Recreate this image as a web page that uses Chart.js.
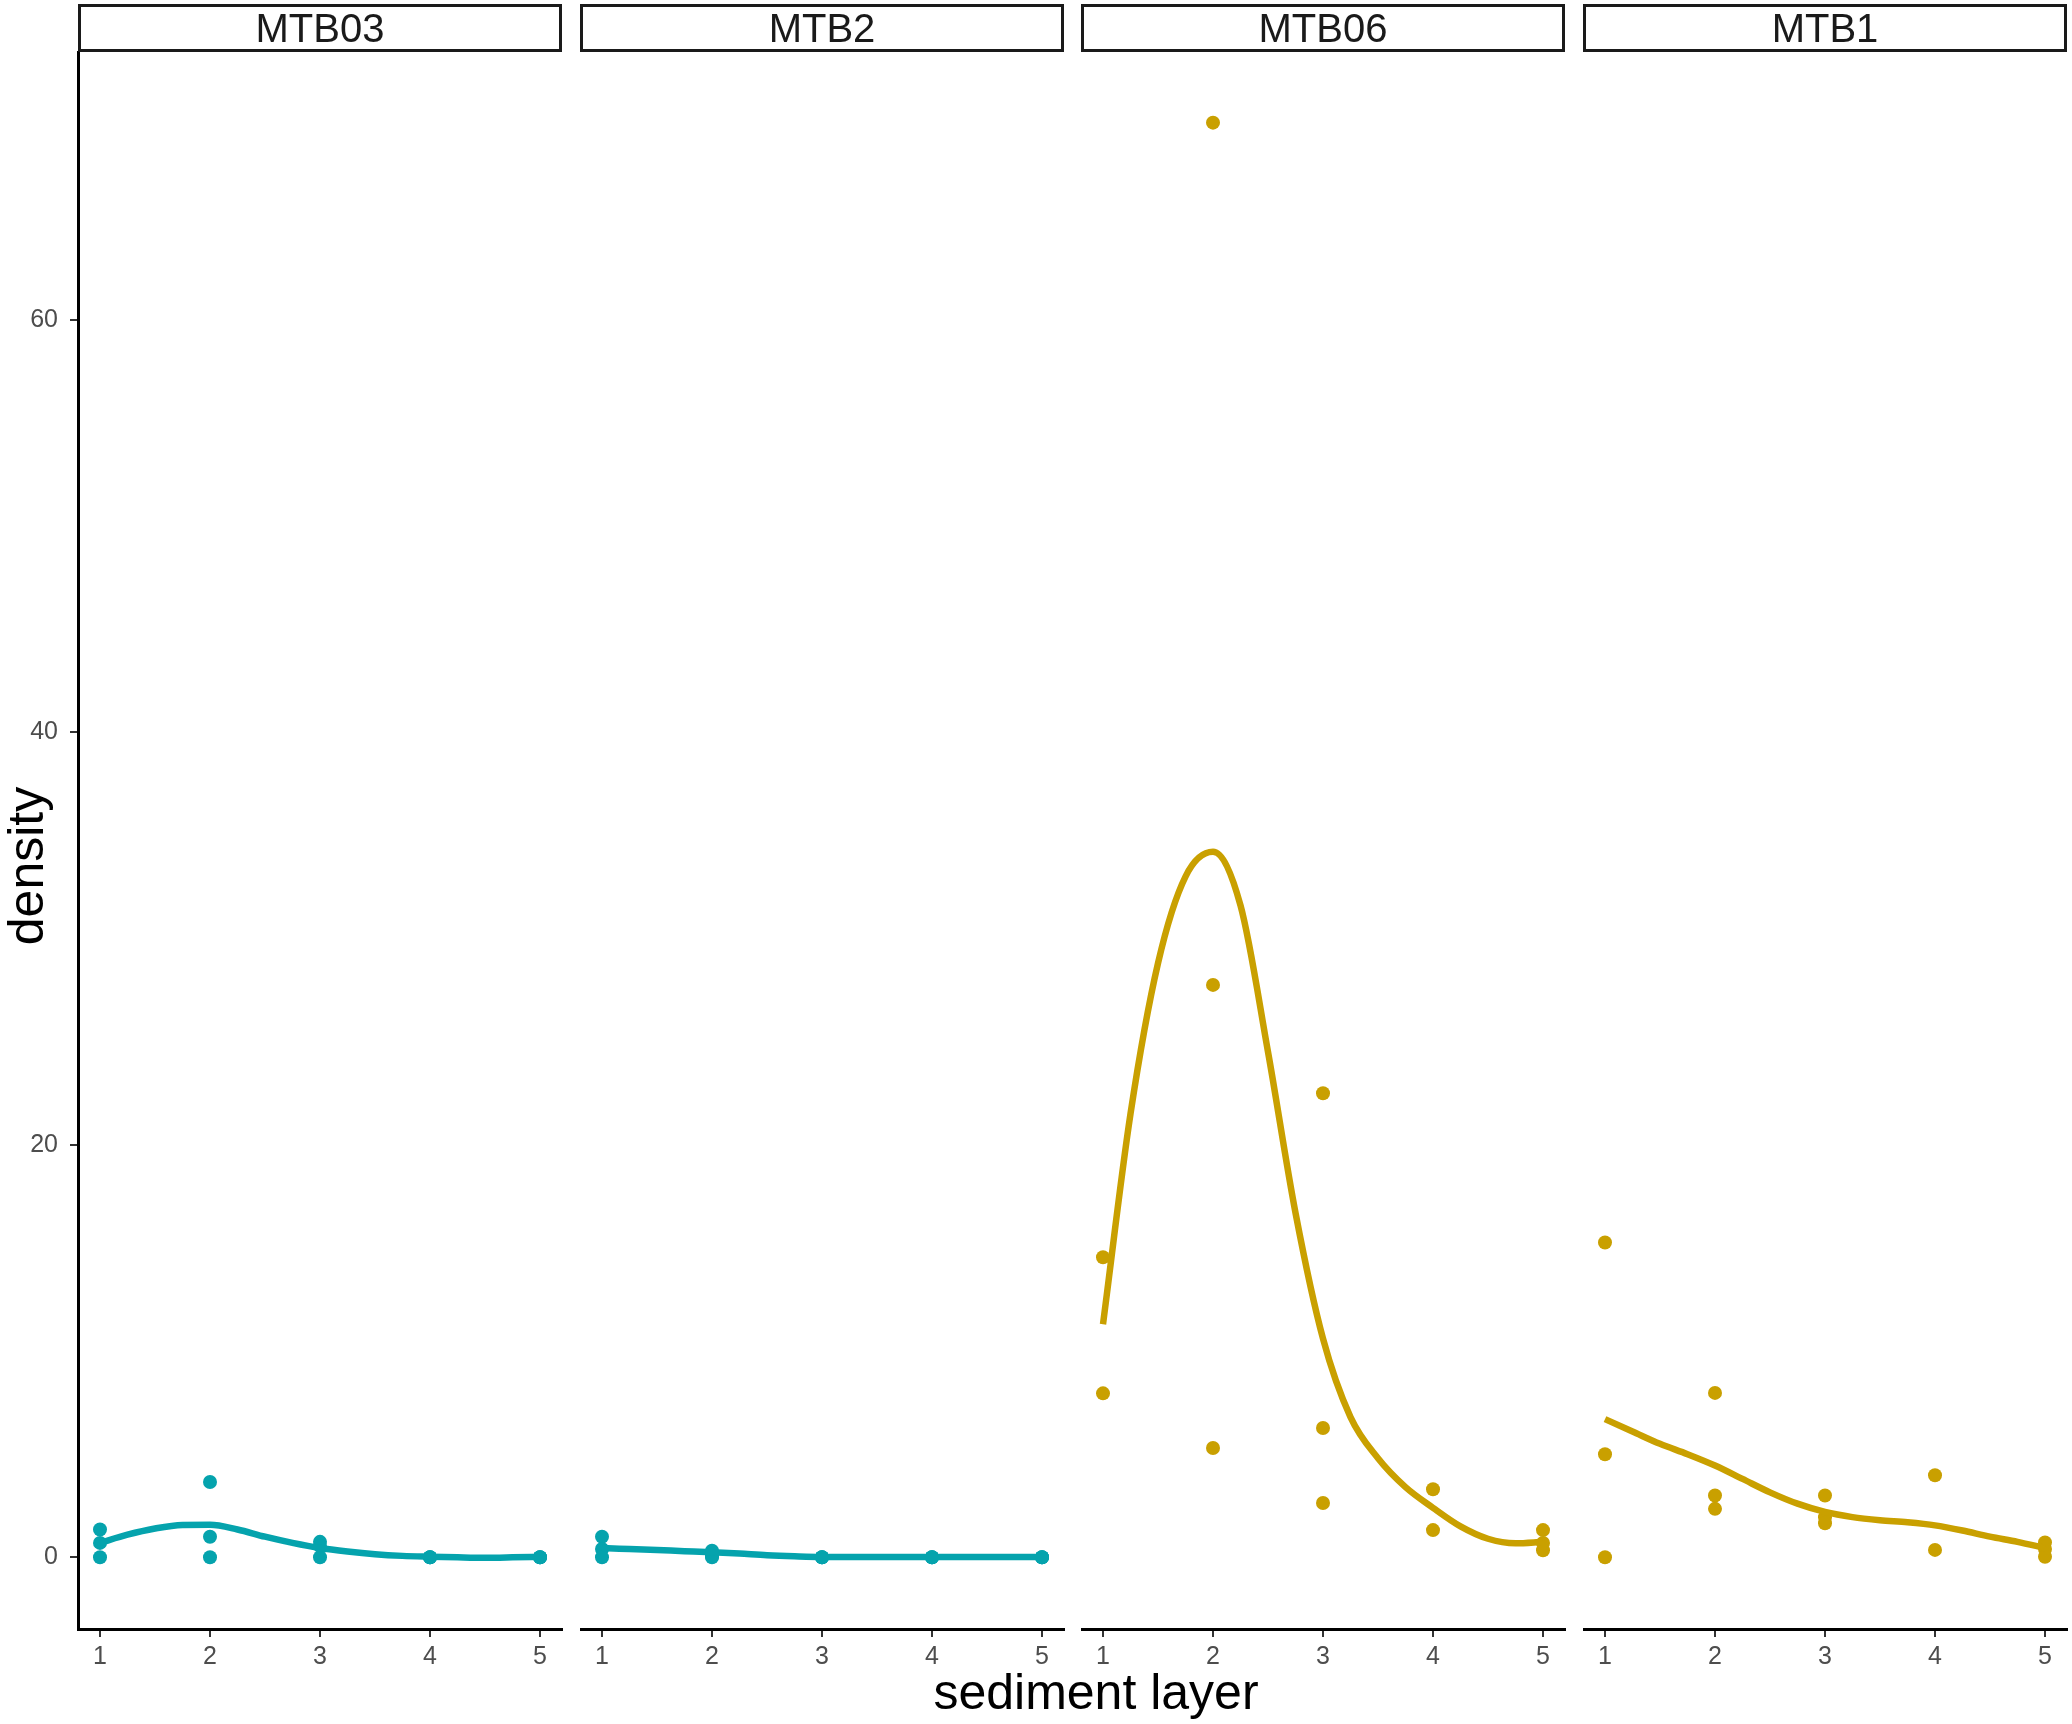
<!DOCTYPE html>
<html>
<head>
<meta charset="utf-8">
<script src="https://cdn.jsdelivr.net/npm/chart.js@4.4.1/dist/chart.umd.min.js"></script>
<style>
  html, body { margin:0; padding:0; background:#fff; }
  body { width:2072px; height:1724px; position:relative; overflow:hidden; font-family:"Liberation Sans", Arial, sans-serif; }
  canvas { position:absolute; }
  .strip { position:absolute; top:4px; height:48px; box-sizing:border-box; border:3px solid #1a1a1a;
           display:flex; align-items:center; justify-content:center; font-size:40px; color:#1a1a1a; }
  .ttl { position:absolute; font-size:50px; line-height:1; color:#000; white-space:nowrap; }
</style>
</head>
<body>
<div class="ttl" id="ylab" style="left:26px; top:866px; transform:translate(-50%,-50%) rotate(-90deg);">density</div>
<div class="ttl" id="xlab" style="left:1096px; top:1667px; transform:translateX(-50%);">sediment layer</div>

<script>
// ---- datos ----
const panelNames = ['MTB03', 'MTB2', 'MTB06', 'MTB1'];
const layers = [1, 2, 3, 4, 5];
const yTicks = [0, 20, 40, 60];

// puntos por capa (un array por capa)
const densityMTB03 = [[1.35, 0.7, 0], [3.65, 1.0, 0], [0.75, 0.55, 0], [0, 0, 0], [0, 0, 0]];
const densityMTB2  = [[1.0, 0.4, 0], [0.32, 0.05, 0], [0, 0, 0], [0, 0, 0], [0, 0, 0]];
const densityMTB06 = [[14.55, 7.95], [69.55, 27.75, 5.3], [22.5, 6.27, 2.63], [3.3, 1.32], [1.32, 0.7, 0.34]];
const densityMTB1  = [[15.26, 5.0, 0], [7.97, 3.0, 2.35], [3.0, 1.94, 1.65], [3.98, 0.36], [0.72, 0.4, 0.03]];

// curva suavizada (loess) leída cada 0.25
const smoothX      = [1, 1.25, 1.5, 1.75, 2, 2.25, 2.5, 2.75, 3, 3.25, 3.5, 3.75, 4, 4.25, 4.5, 4.75, 5];
const smoothMTB03  = [0.7, 1.1, 1.4, 1.57, 1.58, 1.35, 1.0, 0.7, 0.45, 0.28, 0.15, 0.07, 0.03, 0.0, -0.02, 0.0, 0.03];
const smoothMTB2   = [0.45, 0.4, 0.35, 0.3, 0.25, 0.18, 0.1, 0.05, 0.02, 0.02, 0.02, 0.02, 0.02, 0.02, 0.02, 0.02, 0.02];
const smoothMTB06  = [11.3, 21.5, 28.8, 33.0, 34.2, 31.6, 24.5, 16.7, 10.6, 6.8, 4.8, 3.4, 2.4, 1.5, 0.9, 0.68, 0.75];
const smoothMTB1   = [6.7, 6.1, 5.5, 5.0, 4.45, 3.8, 3.15, 2.6, 2.2, 1.95, 1.8, 1.7, 1.55, 1.3, 1.0, 0.75, 0.45];

const TEAL = '#05A3AD', GOLD = '#C9A000';
const panelPoints = [densityMTB03, densityMTB2, densityMTB06, densityMTB1];
const panelSmooth = [smoothMTB03, smoothMTB2, smoothMTB06, smoothMTB1];
const panelColor  = [TEAL, TEAL, GOLD, GOLD];

// --- geometría de paneles (px) ---
const PANEL_LEFT = [78, 580, 1081, 1583];
const PANEL_W = 484, AREA_TOP = 52, AREA_BOTTOM = 1629, PAD_TOP = 30, Y_AXIS_W = 78;
const FONT = '"Liberation Sans", Arial, sans-serif';

function makePanel(i){
  const withY = i === 0;
  const canvas = document.createElement('canvas');
  const left = withY ? 0 : PANEL_LEFT[i];
  const w = (withY ? Y_AXIS_W : 0) + PANEL_W + 4;
  const top = AREA_TOP - PAD_TOP, h = 1724 - top;
  canvas.width = w; canvas.height = h;
  canvas.style.left = left + 'px'; canvas.style.top = top + 'px';
  canvas.style.width = w + 'px'; canvas.style.height = h + 'px';
  document.body.appendChild(canvas);

  const strip = document.createElement('div');
  strip.className = 'strip';
  strip.style.left = PANEL_LEFT[i] + 'px';
  strip.style.width = PANEL_W + 'px';
  strip.textContent = panelNames[i];
  document.body.appendChild(strip);

  const pts = layers.flatMap((l, k) => panelPoints[i][k].map(v => ({ x: l, y: v })));
  const line = smoothX.map((x, k) => ({ x, y: panelSmooth[i][k] }));
  const col = panelColor[i];

  new Chart(canvas, {
    type: 'scatter',
    data: { datasets: [
      { data: line, showLine: true, borderColor: col, borderWidth: 6.5, pointRadius: 0, cubicInterpolationMode: 'monotone', fill: false },
      { data: pts, backgroundColor: col, borderWidth: 0, pointRadius: 7 }
    ]},
    options: {
      responsive: false, animation: false, events: [],
      layout: { autoPadding: false, padding: { top: PAD_TOP, right: 4, left: 0, bottom: 0 } },
      plugins: { legend: { display: false }, tooltip: { enabled: false } },
      scales: {
        x: {
          type: 'linear', min: 0.8, max: 5.2,
          afterBuildTicks: s => { s.ticks = layers.map(v => ({ value: v })); },
          afterFit: s => { s.height = 1724 - AREA_BOTTOM; s.paddingLeft = 0; s.paddingRight = 0; },
          grid: { drawOnChartArea: false, drawTicks: true, tickLength: 8, color: '#333', lineWidth: 2 },
          border: { display: true, color: '#000', width: 3 },
          ticks: { color: '#4d4d4d', font: { family: FONT, size: 25 }, padding: 5, maxRotation: 0, autoSkip: false }
        },
        y: {
          display: withY, min: -3.475, max: 72.975,
          afterBuildTicks: s => { s.ticks = yTicks.map(v => ({ value: v })); },
          afterFit: s => { s.width = withY ? Y_AXIS_W : 0; s.paddingTop = 0; s.paddingBottom = 0; },
          grid: { drawOnChartArea: false, drawTicks: true, tickLength: 8, color: '#333', lineWidth: 2 },
          border: { display: true, color: '#000', width: 3 },
          ticks: { color: '#4d4d4d', font: { family: FONT, size: 25 }, padding: 12 }
        }
      }
    }
  });
}

panelNames.forEach((_, i) => makePanel(i));
</script>
</body>
</html>
